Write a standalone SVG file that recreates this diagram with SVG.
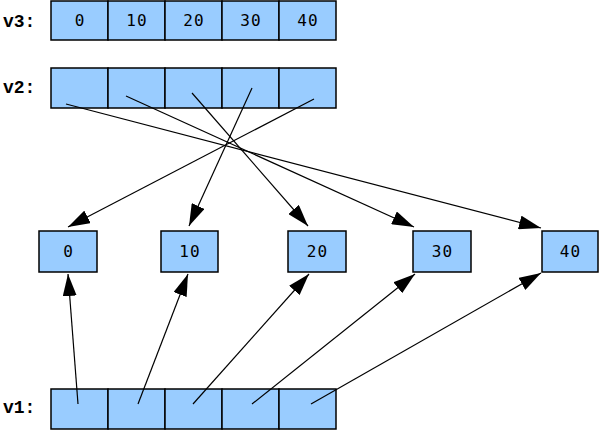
<svg xmlns="http://www.w3.org/2000/svg" width="599" height="431" viewBox="0 0 599 431">
<style>
.cell{fill:#99ccff;stroke:#000;stroke-width:1.5}
.lbl{font-family:"Liberation Mono","Courier New",monospace;font-weight:bold;font-size:18px;fill:#000}
.num{font-family:"DejaVu Sans Mono",monospace;font-size:16px;letter-spacing:1px;fill:#000;text-anchor:middle}
.conn{stroke:#000;stroke-width:1.2;fill:none;marker-end:url(#ah)}
</style>
<defs>
<marker id="ah" viewBox="0 0 22 14" refX="22" refY="7" markerWidth="22" markerHeight="14" markerUnits="userSpaceOnUse" orient="auto">
<path d="M0,0 L22,7 L0,14 z" fill="#000"/>
</marker>
</defs>
<g id="v3">
<text class="lbl" x="3" y="27">v3:</text>
<rect class="cell" x="51" y="1" width="57" height="39"/>
<rect class="cell" x="108" y="1" width="57" height="39"/>
<rect class="cell" x="165" y="1" width="57" height="39"/>
<rect class="cell" x="222" y="1" width="57" height="39"/>
<rect class="cell" x="279" y="1" width="57" height="39"/>
<text class="num" x="80" y="26">0</text>
<text class="num" x="137" y="26">10</text>
<text class="num" x="194" y="26">20</text>
<text class="num" x="251" y="26">30</text>
<text class="num" x="308" y="26">40</text>
</g>
<g id="v2">
<text class="lbl" x="3" y="93">v2:</text>
<rect class="cell" x="51" y="68" width="57" height="40"/>
<rect class="cell" x="108" y="68" width="57" height="40"/>
<rect class="cell" x="165" y="68" width="57" height="40"/>
<rect class="cell" x="222" y="68" width="57" height="40"/>
<rect class="cell" x="279" y="68" width="57" height="40"/>
</g>
<g id="n0"><rect class="cell" x="39" y="231" width="58" height="41"/><text class="num" x="68.5" y="257">0</text></g>
<g id="n10"><rect class="cell" x="161" y="231" width="57" height="41"/><text class="num" x="190" y="257">10</text></g>
<g id="n20"><rect class="cell" x="288" y="231" width="58" height="41"/><text class="num" x="317.5" y="257">20</text></g>
<g id="n30"><rect class="cell" x="413" y="231" width="58" height="41"/><text class="num" x="442.5" y="257">30</text></g>
<g id="n40"><rect class="cell" x="542" y="231" width="56" height="41"/><text class="num" x="570.5" y="257">40</text></g>
<g id="v1">
<text class="lbl" x="3" y="413">v1:</text>
<rect class="cell" x="51" y="389" width="57" height="40"/>
<rect class="cell" x="108" y="389" width="57" height="40"/>
<rect class="cell" x="165" y="389" width="57" height="40"/>
<rect class="cell" x="222" y="389" width="57" height="40"/>
<rect class="cell" x="279" y="389" width="57" height="40"/>
</g>
<g id="connectors">
<line class="conn" x1="66" y1="104" x2="541" y2="228"/>
<line class="conn" x1="126" y1="96" x2="414" y2="227"/>
<line class="conn" x1="192" y1="93" x2="308" y2="226"/>
<line class="conn" x1="252" y1="88" x2="189" y2="226"/>
<line class="conn" x1="314" y1="99" x2="68" y2="227"/>
<line class="conn" x1="78" y1="404" x2="68" y2="274"/>
<line class="conn" x1="138" y1="404" x2="188" y2="274"/>
<line class="conn" x1="193" y1="404" x2="309" y2="274"/>
<line class="conn" x1="252" y1="404" x2="415" y2="274"/>
<line class="conn" x1="311" y1="404" x2="541" y2="273"/>
</g>
</svg>
